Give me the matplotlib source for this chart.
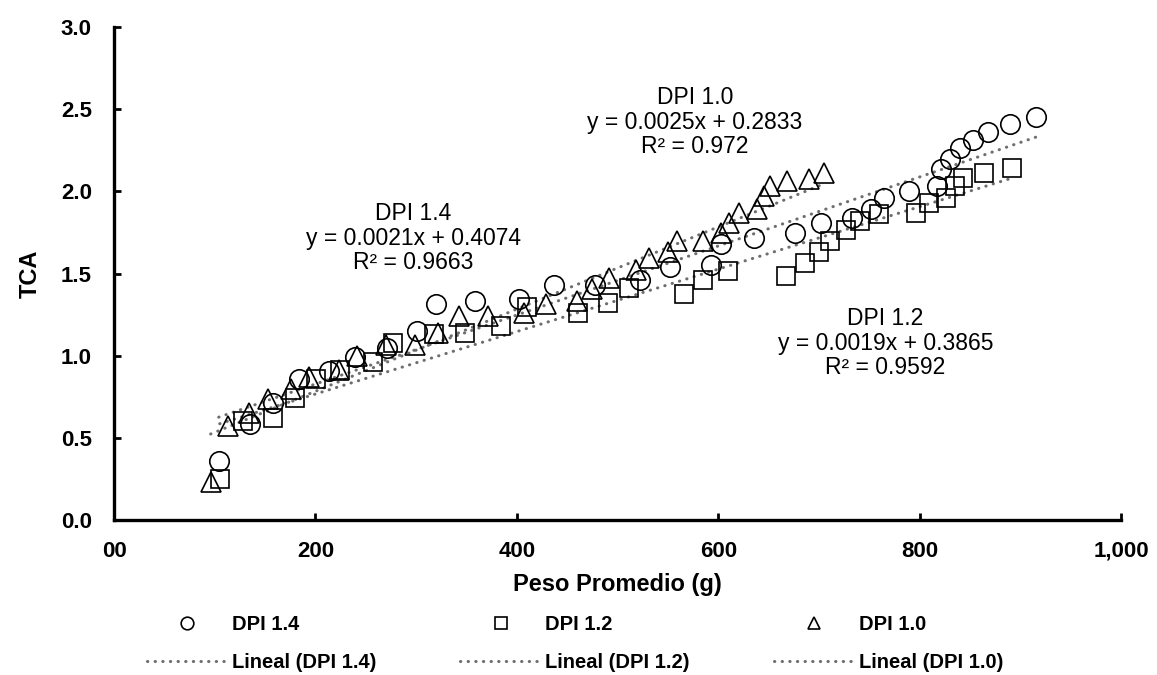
import numpy as np
import matplotlib
matplotlib.use("Agg")
from matplotlib import pyplot as plt

plt.rcParams['font.family'] = ['Liberation Sans', 'DejaVu Sans']

# DPI 1.4 (circles)
x_14 = [104, 135, 158, 184, 214, 239, 271, 301, 320, 358, 402, 437, 478, 522,
        552, 593, 603, 636, 676, 702, 733, 752, 765, 789, 817, 821, 830, 840,
        853, 868, 890, 916]
y_14 = [0.36, 0.585, 0.715, 0.855, 0.905, 0.99, 1.047, 1.148, 1.317, 1.33,
        1.346, 1.43, 1.433, 1.463, 1.54, 1.549, 1.677, 1.717, 1.748, 1.81,
        1.84, 1.895, 1.96, 2.0, 2.03, 2.134, 2.195, 2.265, 2.31, 2.36, 2.41,
        2.45]

# DPI 1.2 (squares)
x_12 = [105, 128, 158, 180, 201, 224, 257, 277, 318, 349, 384, 410, 461, 491,
        511, 566, 585, 610, 667, 686, 700, 711, 727, 741, 760, 796, 809, 826,
        835, 843, 864, 892]
y_12 = [0.25, 0.6, 0.62, 0.745, 0.855, 0.915, 0.96, 1.077, 1.13, 1.138,
        1.183, 1.297, 1.26, 1.32, 1.41, 1.378, 1.463, 1.514, 1.484, 1.565,
        1.63, 1.70, 1.762, 1.82, 1.86, 1.866, 1.927, 1.96, 2.03, 2.08, 2.11,
        2.14]

# DPI 1.0 (triangles)
x_10 = [96, 113, 134, 153, 176, 194, 223, 241, 270, 299, 322, 343, 371, 407,
        429, 460, 475, 492, 518, 531, 550, 559, 585, 603, 611, 621, 639, 645,
        651, 668, 690, 705]
y_10 = [0.23, 0.57, 0.65, 0.735, 0.80, 0.87, 0.915, 0.995, 1.067, 1.067,
        1.138, 1.24, 1.244, 1.26, 1.317, 1.33, 1.407, 1.474, 1.524, 1.595,
        1.63, 1.70, 1.70, 1.748, 1.809, 1.87, 1.894, 1.97, 2.03, 2.06, 2.073,
        2.11]

# linear trend lines shown in the chart (slope, intercept, R2)
names = ['DPI 1.4', 'DPI 1.2', 'DPI 1.0']
slopes = [0.0021, 0.0019, 0.0025]
intercepts = [0.4074, 0.3865, 0.2833]
r2 = ['0.9663', '0.9592', '0.972']

xticks = [0, 200, 400, 600, 800, 1000]
xticklabels = ['00', '200', '400', '600', '800', '1,000']
yticks = [0.0, 0.5, 1.0, 1.5, 2.0, 2.5, 3.0]

fig = plt.figure(figsize=(11.57, 6.75), dpi=100)
ax = fig.add_axes([114/1157, 1-520/675, (1121-114)/1157, (520-27)/675])

series = [(x_14, y_14, 'o', 14), (x_12, y_12, 's', 13), (x_10, y_10, '^', 14)]
pts = []
for (xs, ys, m, ms), nm in zip(series, names):
    p, = ax.plot(xs, ys, linestyle='none', marker=m, markersize=ms,
                 markerfacecolor='none', markeredgecolor='black',
                 markeredgewidth=1.2, label=nm, zorder=3)
    pts.append(p)

lins = []
for (xs, ys, m, ms), nm, a, b in zip(series, names, slopes, intercepts):
    xl = np.array([min(xs), max(xs)])
    l, = ax.plot(xl, a*xl + b, color='#6e6e6e', linewidth=2.2,
                 linestyle=(0, (0.1, 2.4)), dash_capstyle='round',
                 label='Lineal (%s)' % nm, zorder=2)
    lins.append(l)

# equation labels
txt_pos = [(297, 1.716), (766, 1.077), (577, 2.42)]
for nm, a, b, r, (tx, ty) in zip(names, slopes, intercepts, r2, txt_pos):
    ax.text(tx, ty, '%s\ny = %sx + %s\nR² = %s' % (nm, a, b, r),
            ha='center', va='center', fontsize=16.5, linespacing=1.08)

ax.set_xlim(0, 1000)
ax.set_ylim(0, 3.0)
ax.set_xticks(xticks)
ax.set_xticklabels(xticklabels)
ax.set_yticks(yticks)
ax.set_yticklabels(['%.1f' % v for v in yticks])
for s in ['top', 'right']:
    ax.spines[s].set_visible(False)
for s in ['left', 'bottom']:
    ax.spines[s].set_linewidth(2.4)
ax.tick_params(direction='in', length=5, width=2, labelsize=16)
ax.tick_params(axis='x', pad=15)
ax.tick_params(axis='y', pad=16)
for lab in ax.get_xticklabels() + ax.get_yticklabels():
    lab.set_fontweight('bold')
ax.set_xlabel('Peso Promedio (g)', fontsize=17, fontweight='bold')
ax.xaxis.set_label_coords(0.5, -(573-520)/493)
ax.set_ylabel('TCA', fontsize=17, fontweight='bold')
ax.yaxis.set_label_coords(-(114-42)/1007, 0.5)

handles = [pts[0], lins[0], pts[1], lins[1], pts[2], lins[2]]
leg = fig.legend(handles=handles, loc='upper center', ncol=3,
                 bbox_to_anchor=(575/1157, 1-597/675), frameon=False,
                 prop={'weight': 'bold', 'size': 14.5}, markerscale=0.65,
                 handlelength=4.0, handletextpad=0.2, columnspacing=4.2,
                 labelspacing=0.95, numpoints=1)

plt.savefig('out.png', dpi=100)
